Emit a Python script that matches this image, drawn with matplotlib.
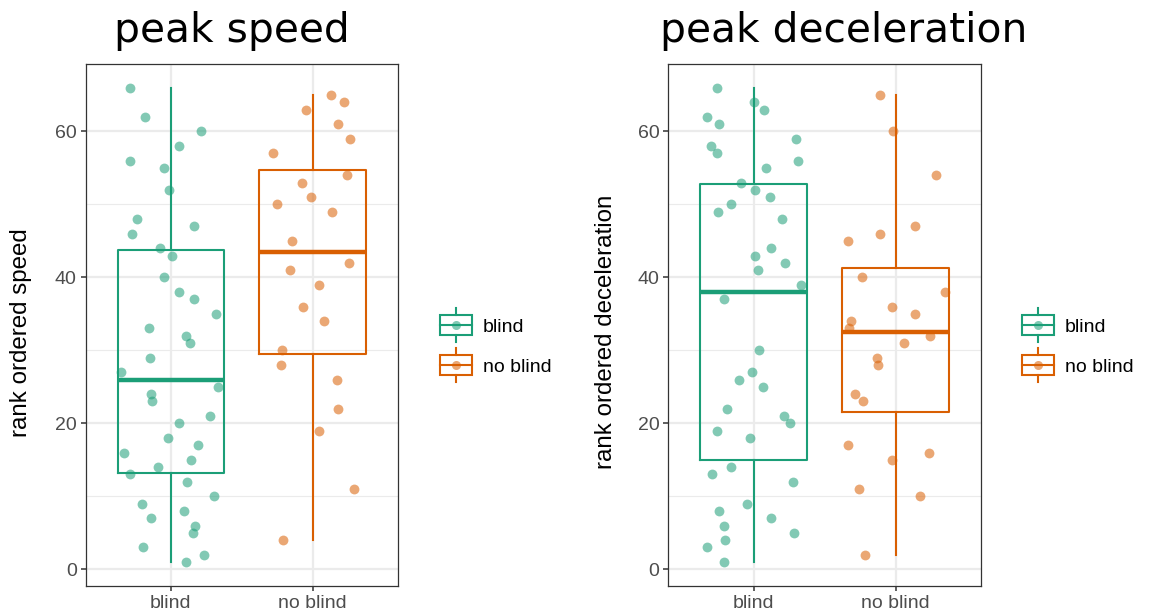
import numpy as np
import matplotlib
matplotlib.use("Agg")
import matplotlib.pyplot as plt
from matplotlib.patches import Rectangle
from matplotlib.lines import Line2D
from matplotlib.legend_handler import HandlerBase

# ---- data (rank values) ----
groups = ["blind", "no blind"]
speed_blind = [66, 62, 60, 58, 56, 55, 52, 48, 47, 46, 44, 43, 40, 38, 37, 35, 33, 32, 31, 29, 27,
               25, 24, 23, 21, 20, 18, 17, 16, 15, 14, 13, 12, 10, 9, 8, 7, 6, 5, 3, 2, 1]
speed_noblind = [65, 64, 63, 61, 59, 57, 54, 53, 51, 50, 49, 45, 42, 41, 39, 36, 34, 30, 28, 26,
                 22, 19, 11, 4]
decel_blind = [66, 64, 63, 62, 61, 59, 58, 57, 56, 55, 53, 52, 51, 50, 49, 48, 44, 43, 42, 41, 39,
               37, 30, 27, 26, 25, 22, 21, 20, 19, 18, 14, 13, 12, 9, 8, 7, 6, 5, 4, 3, 1]
decel_noblind = [65, 60, 54, 47, 46, 45, 40, 38, 36, 35, 34, 33, 32, 31, 29, 28, 24, 23, 17, 16,
                 15, 11, 10, 2]
titles = ["peak speed", "peak deceleration"]
ylabels = ["rank ordered speed", "rank ordered deceleration"]

COLORS = ["#1B9E77", "#D95F02"]
SANS = ["Liberation Sans", "DejaVu Sans"]
W, H = 1157, 616


class BoxKey(HandlerBase):
    # ggplot-style boxplot legend key: box, median, whiskers and a point
    def create_artists(self, legend, orig, xd, yd, w, h, fontsize, trans):
        c = orig.get_color()
        cx, cy = xd + w / 2, yd + h / 2
        bh = 1.5 * h
        box = Rectangle((xd, cy - bh / 2), w, bh, fill=False, ec=c, lw=1.5, transform=trans)
        med = Line2D([xd, xd + w], [cy, cy], color=c, lw=1.5, transform=trans)
        wt = Line2D([cx, cx], [cy + bh / 2, cy + 1.25 * h], color=c, lw=1.5, transform=trans)
        wb = Line2D([cx, cx], [cy - 1.25 * h, cy - bh / 2], color=c, lw=1.5, transform=trans)
        pt = Line2D([cx], [cy], marker="o", ms=6.5, color=c, alpha=0.55, mew=0, transform=trans)
        return [box, med, wt, wb, pt]


def panel(ax, series, ylabel, seed, lab_x):
    rng = np.random.default_rng(seed)
    pos = np.arange(1, len(series) + 1)
    for p, vals, c in zip(pos, series, COLORS):
        ax.boxplot([vals], positions=[p], widths=0.75, whis=1.5, showcaps=False,
                   showfliers=False, manage_ticks=False,
                   boxprops=dict(color=c, lw=1.5),
                   whiskerprops=dict(color=c, lw=1.5),
                   medianprops=dict(color=c, lw=3.2, solid_capstyle="butt"),
                   zorder=3)
        xj = p + rng.uniform(-0.35, 0.35, len(vals))
        ax.scatter(xj, vals, s=50, color=c, alpha=0.55, lw=0, zorder=4)

    ax.set_xlim(0.4, 2.6)
    ax.set_ylim(-2.25, 69.25)
    ax.set_xticks(pos)
    ax.set_xticklabels(groups, family=SANS, fontsize=14, color="#4D4D4D")
    ax.set_yticks([0, 20, 40, 60])
    ax.set_yticks([10, 30, 50], minor=True)
    ax.set_yticklabels(["0", "20", "40", "60"], family=SANS, fontsize=14, color="#4D4D4D")
    ax.tick_params(which="major", length=3.5, width=1.1, color="#333333", pad=3)
    ax.tick_params(which="minor", length=0)
    ax.grid(which="major", color="#EBEBEB", lw=1.6, zorder=0)
    ax.grid(which="minor", axis="y", color="#EBEBEB", lw=0.8, zorder=0)
    ax.set_axisbelow(True)
    for s in ax.spines.values():
        s.set_color("#333333")
        s.set_linewidth(0.9)
    ax.set_ylabel(ylabel, family=SANS, fontsize=17.4)
    ax.yaxis.set_label_coords(lab_x, 0.486)


fig = plt.figure(figsize=(W / 100, H / 100), dpi=100)
ax1 = fig.add_axes([85.7 / W, 1 - 585.7 / H, 312 / W, 521.7 / H])
ax2 = fig.add_axes([668.3 / W, 1 - 585.7 / H, 312.7 / W, 521.7 / H])
panel(ax1, [speed_blind, speed_noblind], ylabels[0], 3, -0.172)
panel(ax2, [decel_blind, decel_noblind], ylabels[1], 11, -0.164)

# titles sit at their own centres, as in the original
for t, xc in zip(titles, [231.5, 844]):
    fig.text(xc / W, 1 - 42 / H, t, family="DejaVu Sans", fontsize=29.3,
             ha="center", va="baseline")

for xk in [440 / W, 1022 / W]:
    handles = [Line2D([], [], color=c) for c in COLORS]
    fig.legend(handles, groups, handler_map={Line2D: BoxKey()},
               loc="center left", bbox_to_anchor=(xk, 1 - 347 / H),
               frameon=False, borderpad=0, borderaxespad=0,
               handlelength=1.65, handleheight=0.7, handletextpad=0.55,
               labelspacing=1.16, prop={"family": SANS, "size": 14})

fig.savefig("out.png", dpi=100)
